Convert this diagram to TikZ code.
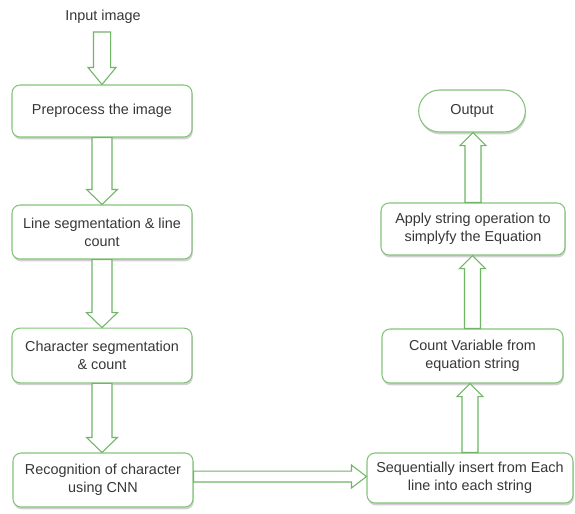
\documentclass[tikz,border=0pt]{standalone}
\usepackage{fontspec}
\setmainfont{Liberation Sans}
\usetikzlibrary{calc,shadows}
\definecolor{boxgreen}{RGB}{132,196,122}
\definecolor{arrgreen}{RGB}{112,182,102}
\definecolor{txtgray}{RGB}{55,55,55}
\tikzset{
  stepbox/.style={draw=boxgreen, line width=0.8pt, fill=white, rounded corners=6pt,
    align=center, text=txtgray, font=\fontsize{10.8}{13.3}\selectfont,
    minimum width=135pt, minimum height=40pt, inner sep=2pt,
    drop shadow={shadow xshift=0.6pt, shadow yshift=-1.8pt, opacity=0.18, fill=black}},
  barrow/.style={draw=arrgreen, line width=0.8pt, fill=white, line join=miter},
  lbl/.style={text=txtgray, font=\fontsize{10.8}{13.3}\selectfont}
}
% vertical down arrow: #1 from, #2 to, #3 shaft half width, #4 head half width, #5 head length
\newcommand\arrdown[5]{\draw[barrow] let \p1=(#1), \p2=(#2) in
  (\x1-#3,\y1) -- (\x1-#3,\y2+#5) -- (\x1-#4,\y2+#5) -- (\x1,\y2) --
  (\x1+#4,\y2+#5) -- (\x1+#3,\y2+#5) -- (\x1+#3,\y1) -- cycle;}
\newcommand\arrup[5]{\draw[barrow] let \p1=(#1), \p2=(#2) in
  (\x1-#3,\y1) -- (\x1-#3,\y2-#5) -- (\x1-#4,\y2-#5) -- (\x1,\y2) --
  (\x1+#4,\y2-#5) -- (\x1+#3,\y2-#5) -- (\x1+#3,\y1) -- cycle;}
\newcommand\arrright[5]{\draw[barrow] let \p1=(#1), \p2=(#2) in
  (\x1,\y1+#3) -- (\x2-#5,\y1+#3) -- (\x2-#5,\y1+#4) -- (\x2,\y1) --
  (\x2-#5,\y1-#4) -- (\x2-#5,\y1-#3) -- (\x1,\y1-#3) -- cycle;}
\begin{document}
\begin{tikzpicture}[x=0.75pt,y=-0.75pt]
\fill[white] (0,0) rectangle (575,514);
\useasboundingbox (0,0) rectangle (575,514);

\node[lbl] (inp) at (103,17) {Input image};
\coordinate (inpb) at (102,32);

\node[stepbox, minimum width=135pt, minimum height=39pt] (pre) at (102,111) {Preprocess the image};
\node[stepbox, minimum width=135pt, minimum height=40.5pt] (line) at (102,232) {Line segmentation \& line\\count};
\node[stepbox, minimum width=135pt, minimum height=41pt] (char) at (102,355.5) {Character segmentation\\\& count};
\node[stepbox, minimum width=135pt, minimum height=40.5pt] (rec) at (103,480) {Recognition of character\\using CNN};

\node[stepbox, minimum width=154.5pt, minimum height=37.5pt] (seq) at (470,478) {Sequentially insert from Each\\line into each string};
\node[stepbox, minimum width=135.75pt, minimum height=40.5pt] (count) at (472.5,356) {Count Variable from\\equation string};
\node[stepbox, minimum width=138pt, minimum height=39pt] (apply) at (473,229) {Apply string operation to\\simplyfy the Equation};
\node[stepbox, rounded corners=15.75pt, minimum width=80pt, minimum height=31.5pt] (out) at (472,111) {Output};

\arrdown{inpb}{pre.north}{6.4pt}{10.5pt}{12.75pt}
\arrdown{pre.south}{line.north}{7.5pt}{11.6pt}{11.25pt}
\arrdown{line.south}{char.north}{7.5pt}{11.6pt}{11.25pt}
\arrdown{char.south}{rec.north}{7.5pt}{11.6pt}{11.25pt}
\arrright{[yshift=2.6pt]rec.east}{seq.west}{4.1pt}{8.6pt}{11.25pt}
\arrup{seq.north}{count.south}{6pt}{9.75pt}{9.75pt}
\arrup{count.north}{apply.south}{6pt}{9.75pt}{9.75pt}
\arrup{apply.north}{out.south}{6pt}{9.75pt}{9.75pt}
\end{tikzpicture}
\end{document}
